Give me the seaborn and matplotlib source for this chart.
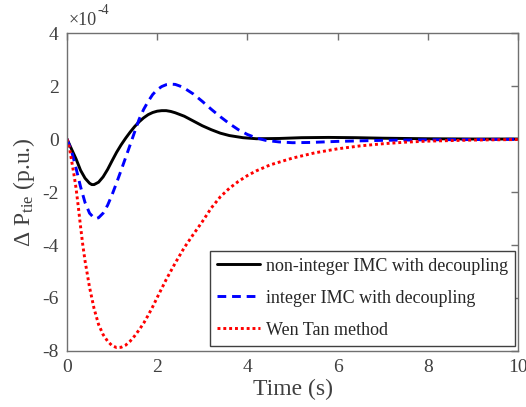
import numpy as np
import pandas as pd
import matplotlib
matplotlib.use("Agg")
import matplotlib.pyplot as plt
import seaborn as sns
from matplotlib.ticker import FuncFormatter

# ---------------- data (values in units of 1e-4 p.u.) ----------------
SCALE = 1e-4

t_nonint = [0, 0.1, 0.2, 0.3, 0.4, 0.5, 0.55, 0.6, 0.7, 0.8, 0.9, 1.0, 1.1, 1.2,
            1.3, 1.4, 1.5, 1.6, 1.7, 1.8, 1.9, 2.0, 2.1, 2.2, 2.3, 2.4, 2.6, 2.8,
            3.0, 3.2, 3.4, 3.6, 3.9, 4.2, 4.7, 5.2, 5.8, 6.4, 7.0, 8.0, 9.0, 10.0]
v_nonint = [0, -0.38, -0.75, -1.18, -1.48, -1.67, -1.72, -1.72, -1.63, -1.43,
            -1.15, -0.82, -0.5, -0.22, 0.03, 0.26, 0.47, 0.65, 0.8, 0.92, 1.0,
            1.05, 1.07, 1.07, 1.04, 0.99, 0.86, 0.68, 0.5, 0.35, 0.22, 0.13,
            0.05, 0.01, 0.02, 0.05, 0.06, 0.05, 0.03, 0.01, 0.0, 0.0]

t_int = [0, 0.1, 0.2, 0.3, 0.4, 0.5, 0.6, 0.65, 0.7, 0.8, 0.9, 1.0, 1.1, 1.2,
         1.3, 1.4, 1.5, 1.6, 1.7, 1.8, 1.9, 2.0, 2.1, 2.2, 2.3, 2.4, 2.5, 2.6,
         2.8, 3.0, 3.2, 3.4, 3.6, 3.8, 4.0, 4.2, 4.4, 4.7, 5.0, 5.4, 6.0, 7.0,
         8.0, 9.0, 10.0]
v_int = [0, -0.45, -1.1, -1.8, -2.4, -2.8, -2.98, -3.0, -2.97, -2.8, -2.5,
         -2.1, -1.65, -1.18, -0.7, -0.22, 0.27, 0.75, 1.12, 1.42, 1.68, 1.86,
         1.98, 2.05, 2.07, 2.06, 2.0, 1.92, 1.7, 1.42, 1.12, 0.84, 0.58, 0.35,
         0.17, 0.04, -0.05, -0.11, -0.14, -0.13, -0.09, -0.05, -0.03, -0.02,
         -0.01]

t_wen = [0, 0.05, 0.1, 0.15, 0.2, 0.25, 0.3, 0.35, 0.4, 0.45, 0.5, 0.55, 0.6,
         0.7, 0.8, 0.9, 1.0, 1.1, 1.2, 1.3, 1.4, 1.5, 1.6, 1.7, 1.8, 1.9, 2.0,
         2.2, 2.4, 2.6, 2.8, 3.0, 3.2, 3.4, 3.6, 3.8, 4.0, 4.2, 4.5, 5.0, 5.5,
         6.0, 6.5, 7.0, 7.5, 8.0, 9.0, 10.0]
v_wen = [0, -0.3, -0.8, -1.3, -1.85, -2.55, -3.3, -4.0, -4.6, -5.1, -5.6,
         -6.0, -6.4, -7.0, -7.38, -7.63, -7.8, -7.87, -7.86, -7.78, -7.63,
         -7.43, -7.2, -6.95, -6.65, -6.33, -5.98, -5.3, -4.68, -4.1, -3.6,
         -3.12, -2.6, -2.18, -1.86, -1.6, -1.38, -1.2, -0.98, -0.72, -0.52,
         -0.37, -0.26, -0.18, -0.12, -0.08, -0.04, -0.02]

labels = ["non-integer IMC with decoupling", "integer IMC with decoupling",
          "Wen Tan method"]
x_ticks = [0, 2, 4, 6, 8, 10]
y_ticks = [-8, -6, -4, -2, 0, 2, 4]
exponent = "-4"

# ---------------- style ----------------
sns.set_theme(style="white")
plt.rcParams["font.family"] = ["Liberation Serif", "DejaVu Serif"]
plt.rcParams["mathtext.fontset"] = "custom"
plt.rcParams["mathtext.rm"] = "Liberation Serif"
plt.rcParams["mathtext.it"] = "Liberation Serif:italic"
plt.rcParams["axes.unicode_minus"] = False

fig = plt.figure(figsize=(5.26, 4.07), dpi=100)
ax = fig.add_axes([0.1274, 0.1376, 0.8574, 0.7813])

series = [
    (t_nonint, v_nonint, labels[0], "black", "-"),
    (t_int, v_int, labels[1], "#0000FF", (0, (3, 2))),
    (t_wen, v_wen, labels[2], "#FF0000", (0, (1, 1))),
]
for t, v, lab, col, ls in series:
    df = pd.DataFrame({"t": t, "v": np.array(v) * SCALE})
    sns.lineplot(data=df, x="t", y="v", ax=ax, color=col, linestyle=ls,
                 linewidth=2.1, label=lab, sort=False, estimator=None)

ax.set_xlim(0, 10)
ax.set_ylim(-8 * SCALE, 4 * SCALE)
ax.set_xticks(x_ticks)
ax.set_yticks([y * SCALE for y in y_ticks])
ax.yaxis.set_major_formatter(FuncFormatter(lambda v, p: f"{round(v / SCALE):d}"))

txt_col = "#404040"
# exponent marker above the top-left corner of the axes
ax.text(0.004, 1.012, "\u00d710", transform=ax.transAxes, fontsize=13,
        color=txt_col, ha="left", va="bottom")
ax.text(0.068, 1.05, exponent, transform=ax.transAxes, fontsize=10,
        color=txt_col, ha="left", va="bottom")

spine_col = "#707070"
for s in ax.spines.values():
    s.set_color(spine_col)
    s.set_linewidth(1.0)
    s.set_visible(True)
ax.tick_params(direction="in", top=True, right=True, length=5, width=1.0,
               color=spine_col, labelsize=14, labelcolor=txt_col, pad=6)

ax.set_xlabel("Time (s)", fontsize=17, color=txt_col, labelpad=2)
ax.set_ylabel(r"$\Delta$ P$_{\mathrm{tie}}$ (p.u.)", fontsize=17,
              color=txt_col, labelpad=4)

leg = ax.legend(loc="lower right", bbox_to_anchor=(0.993, 0.0157),
                borderaxespad=0, fontsize=13, frameon=True, fancybox=False,
                handlelength=2.4, handletextpad=0.3, borderpad=0.4,
                labelspacing=0.83)
leg.get_frame().set_edgecolor("#404040")
leg.get_frame().set_linewidth(1.0)
leg.get_frame().set_alpha(1)

fig.savefig("out.png", dpi=100)
